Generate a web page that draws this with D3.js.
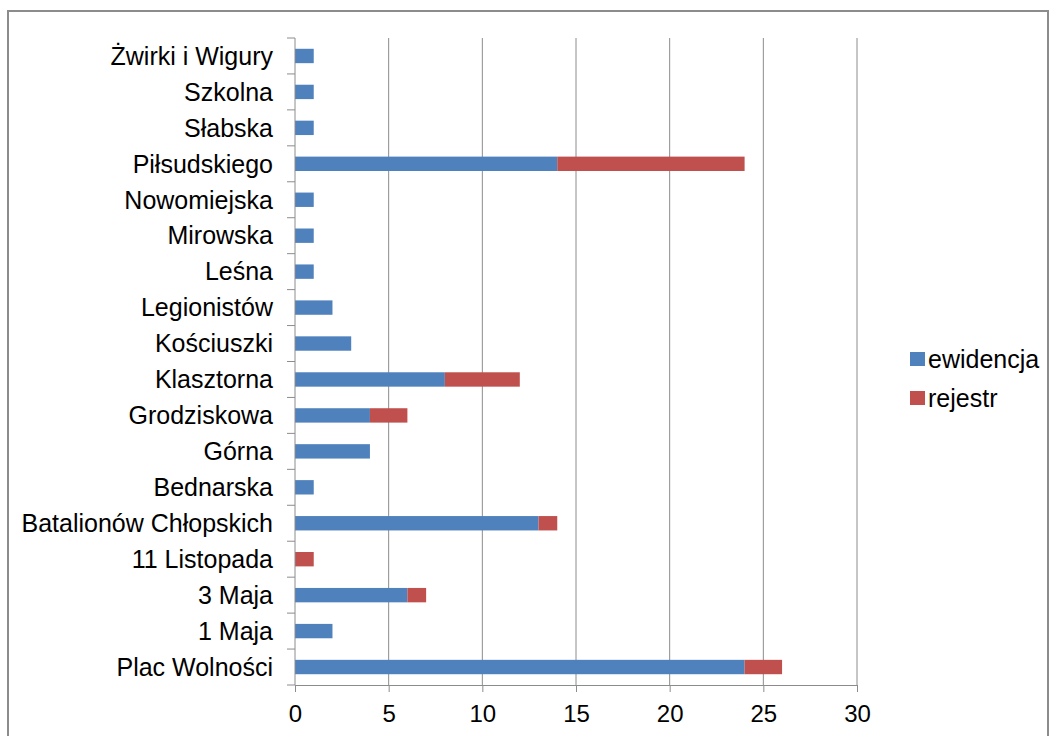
<!DOCTYPE html>
<html>
  <head>
    <meta charset="utf-8">
    <title>Ulice - ewidencja i rejestr</title>
    <style>
      body { margin: 0; background: #fff; }
      text { font-family: "Liberation Sans", Arial, sans-serif; fill: #000; }
    </style>
  </head>
  <body>
    <div id="container"></div>
    <script src="https://d3js.org/d3.v7.min.js"></script>
    <script>

      // DATA (bottom to top as in the picture)
      var streets = ["Plac Wolności", "1 Maja", "3 Maja", "11 Listopada", "Batalionów Chłopskich",
        "Bednarska", "Górna", "Grodziskowa", "Klasztorna", "Kościuszki", "Legionistów", "Leśna",
        "Mirowska", "Nowomiejska", "Piłsudskiego", "Słabska", "Szkolna", "Żwirki i Wigury"];
      var ewidencja = [24, 2, 6, 0, 13, 1, 4, 4, 8, 3, 2, 1, 1, 1, 14, 1, 1, 1];
      var rejestr = [2, 0, 1, 1, 1, 0, 0, 2, 4, 0, 0, 0, 0, 0, 10, 0, 0, 0];
      var seriesNames = ["ewidencja", "rejestr"];
      var xTicks = [0, 5, 10, 15, 20, 25, 30];

      var colors = { ewidencja: "#4F81BD", rejestr: "#C0504D" };

      // SIZES
      var W = 1051, H = 736;
      var margin = { top: 38, right: 194, bottom: 51, left: 295 },
        width = W - margin.left - margin.right,
        height = H - margin.top - margin.bottom;

      var svg = d3.select("#container")
        .append("svg")
        .attr("width", W)
        .attr("height", H);

      // OUTER CHART BORDER
      svg.append("rect")
        .attr("x", 8).attr("y", 11)
        .attr("width", 1040).attr("height", 740)
        .attr("fill", "none")
        .attr("stroke", "#8c8c8c")
        .attr("stroke-width", 2);

      var g = svg.append("g")
        .attr("transform", "translate(" + margin.left + "," + margin.top + ")");

      var x = d3.scaleLinear().domain([0, 30]).range([0, width]);
      var y = d3.scaleBand()
        .domain(streets.slice().reverse())
        .range([0, height])
        .paddingInner(0.6)
        .paddingOuter(0.3);

      // GRIDLINES
      g.selectAll(".grid")
        .data(xTicks.slice(1))
        .enter()
        .append("line")
        .attr("x1", d => x(d)).attr("x2", d => x(d))
        .attr("y1", 0).attr("y2", height)
        .attr("stroke", "#8c8c8c")
        .attr("stroke-width", 1);

      // STACK
      var table = streets.map((s, i) => ({ street: s, ewidencja: ewidencja[i], rejestr: rejestr[i] }));
      var stacked = d3.stack().keys(seriesNames)(table);

      g.selectAll(".series")
        .data(stacked)
        .enter()
        .append("g")
        .attr("fill", d => colors[d.key])
        .selectAll("rect")
        .data(d => d)
        .enter()
        .append("rect")
        .attr("x", d => x(d[0]))
        .attr("y", d => y(d.data.street))
        .attr("width", d => x(d[1]) - x(d[0]))
        .attr("height", y.bandwidth());

      // X AXIS
      var xAxis = g.append("g")
        .attr("transform", "translate(0," + height + ")")
        .call(d3.axisBottom(x).tickValues(xTicks).tickSizeOuter(0).tickSizeInner(7).tickPadding(13));
      xAxis.select(".domain").attr("stroke", "#8c8c8c");
      xAxis.selectAll(".tick line").attr("stroke", "#8c8c8c");
      xAxis.selectAll("text")
        .style("font-size", "24px")
        .style("font-family", "'Liberation Sans', Arial, sans-serif")
        .attr("fill", "#000");

      // Y AXIS (ticks sit at the category boundaries)
      var yAxis = g.append("g");
      yAxis.append("line")
        .attr("x1", 0).attr("x2", 0).attr("y1", 0).attr("y2", height)
        .attr("stroke", "#8c8c8c");
      var step = height / streets.length;
      yAxis.selectAll(".ytick")
        .data(d3.range(streets.length + 1))
        .enter()
        .append("line")
        .attr("x1", -8).attr("x2", 0)
        .attr("y1", d => d * step).attr("y2", d => d * step)
        .attr("stroke", "#8c8c8c");
      yAxis.selectAll(".ylabel")
        .data(streets)
        .enter()
        .append("text")
        .attr("x", -22)
        .attr("y", d => y(d) + y.bandwidth() / 2)
        .attr("dy", "0.35em")
        .attr("text-anchor", "end")
        .style("font-size", "25px")
        .text(d => d);

      // LEGEND
      var legend = svg.append("g")
        .attr("transform", "translate(910,359)");
      var items = legend.selectAll(".item")
        .data(seriesNames)
        .enter()
        .append("g")
        .attr("transform", (d, i) => "translate(0," + i * 39 + ")");
      items.append("rect")
        .attr("x", 0).attr("y", -7)
        .attr("width", 15).attr("height", 14)
        .attr("fill", d => colors[d]);
      items.append("text")
        .attr("x", 18)
        .attr("dy", "0.35em")
        .style("font-size", "25px")
        .text(d => d);

    </script>
  </body>
</html>
